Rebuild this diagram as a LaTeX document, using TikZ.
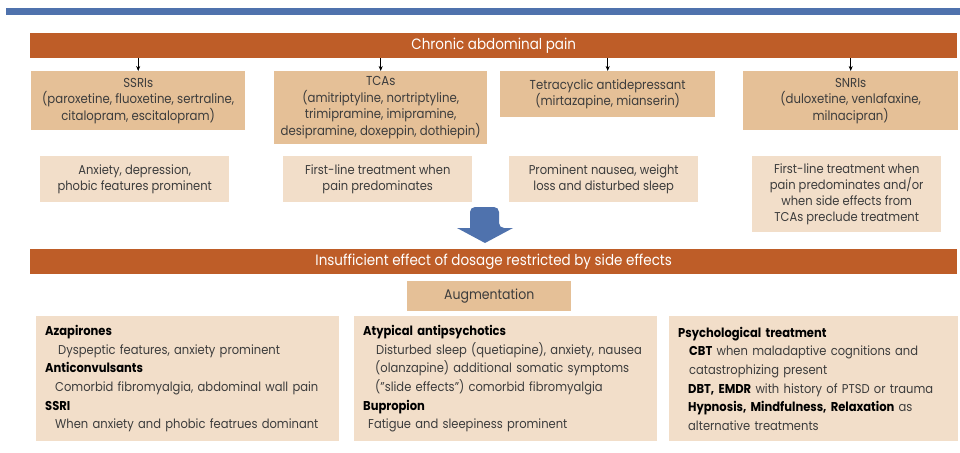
\documentclass[tikz,border=0pt]{standalone}
\usepackage{fontspec}
\setmainfont{Poppins}[FakeStretch=0.9]
\usetikzlibrary{arrows.meta}
\definecolor{barorange}{RGB}{190,93,40}
\definecolor{drugbox}{RGB}{229,192,151}
\definecolor{notebox}{RGB}{242,222,201}
\definecolor{ruleblue}{RGB}{79,114,173}
\definecolor{bodytext}{RGB}{60,60,60}
\tikzset{
  bar/.style={fill=barorange, text=white, inner sep=0pt, anchor=north west,
    minimum width=927pt, minimum height=25pt, font=\fontsize{15}{16}\selectfont},
  drug/.style={fill=drugbox, text=bodytext, inner sep=0pt, anchor=north west,
    align=center, font=\fontsize{13}{16.5}\selectfont},
  note/.style={fill=notebox, text=bodytext, inner sep=0pt, anchor=north west,
    align=center, font=\fontsize{12.8}{16}\selectfont},
  augbox/.style={fill=notebox, text=bodytext, inner xsep=9pt, inner ysep=0pt, anchor=north west,
    align=left, font=\fontsize{12.8}{18.6}\selectfont, minimum height=125pt},
  feed/.style={-{Stealth[length=5pt,width=4pt]}, line width=0.6pt, black}
}
\newcommand{\hd}[1]{\textcolor{black}{\bfseries #1}}
\begin{document}
\begin{tikzpicture}[x=1pt,y=-1pt]
\useasboundingbox (0,0) rectangle (960,452);
% top rule
\fill[ruleblue] (6,8) rectangle (960,15);
% header bar and drug classes
\node[bar] (chronic) at (30,33) {Chronic abdominal pain};
\node[drug, minimum width=214pt, minimum height=59pt] (ssri) at (31,71)
  {SSRIs\\(paroxetine, fluoxetine, sertraline,\\citalopram, escitalopram)};
\node[drug, minimum width=213pt, minimum height=73pt] (tca) at (274,71)
  {TCAs\\(amitriptyline, nortriptyline,\\trimipramine, imipramine,\\desipramine, doxeppin, dothiepin)};
\node[drug, minimum width=215pt, minimum height=46pt] (tetra) at (500,71)
  {Tetracyclic antidepressant\\(mirtazapine, mianserin)};
\node[drug, minimum width=215pt, minimum height=59pt] (snri) at (743,71)
  {SNRIs\\(duloxetine, venlafaxine,\\milnacipran)};
\foreach \n in {ssri,tca,tetra,snri}
  \draw[feed] (chronic.south -| \n.north) -- (\n.north);
% indications
\node[note, minimum width=189pt, minimum height=46pt] (ssrinote) at (40,156)
  {Anxiety, depression,\\phobic features prominent};
\node[note, minimum width=189pt, minimum height=46pt] (tcanote) at (283,156)
  {First-line treatment when\\pain predominates};
\node[note, minimum width=189pt, minimum height=46pt] (tetranote) at (509,156)
  {Prominent nausea, weight\\loss and disturbed sleep};
\node[note, minimum width=189pt, minimum height=76pt] (snrinote) at (752,156)
  {First-line treatment when\\pain predominates and/or\\when side effects from\\TCAs preclude treatment};
% block arrow
\fill[ruleblue, rounded corners=5pt] (470,228) -- (470,207) -- (499,207) -- (499,228) [sharp corners] -- (513,228) -- (485,243) -- (457,228) -- cycle;
% second stage
\node[bar] (insuff) at (30,249) {Insufficient effect of dosage restricted by side effects};
\node[drug, minimum width=164pt, minimum height=30pt, font=\fontsize{13.9}{16}\selectfont] (aug) at (407,281) {Augmentation};
\node[augbox, text width=285pt] (pharm) at (36,316)
  {\hd{Azapirones}\\
   \hspace*{13pt}Dyspeptic features, anxiety prominent\\
   \hd{Anticonvulsants}\\
   \hspace*{10pt}Comorbid fibromyalgia, abdominal wall pain\\
   \hd{SSRI}\\
   \hspace*{10pt}When anxiety and phobic featrues dominant};
\node[augbox, text width=285pt] (antipsy) at (354,316)
  {\hd{Atypical antipsychotics}\\
   \hspace*{13pt}Disturbed sleep (quetiapine), anxiety, nausea\\
   \hspace*{12pt}(olanzapine) additional somatic symptoms\\
   \hspace*{12pt}(”slide effects”) comorbid fibromyalgia\\
   \hd{Bupropion}\\
   \hspace*{5pt}Fatigue and sleepiness prominent};
\node[augbox, text width=271pt] (psych) at (669,316)
  {\hd{Psychological treatment}\\
   \hspace*{11pt}\hd{CBT} when maladaptive cognitions and\\
   \hspace*{11pt}catastrophizing present\\
   \hspace*{10pt}\hd{DBT, EMDR} with history of PTSD or trauma\\
   \hspace*{10pt}\hd{Hypnosis, Mindfulness, Relaxation} as\\
   \hspace*{10pt}alternative treatments};
\end{tikzpicture}
\end{document}
